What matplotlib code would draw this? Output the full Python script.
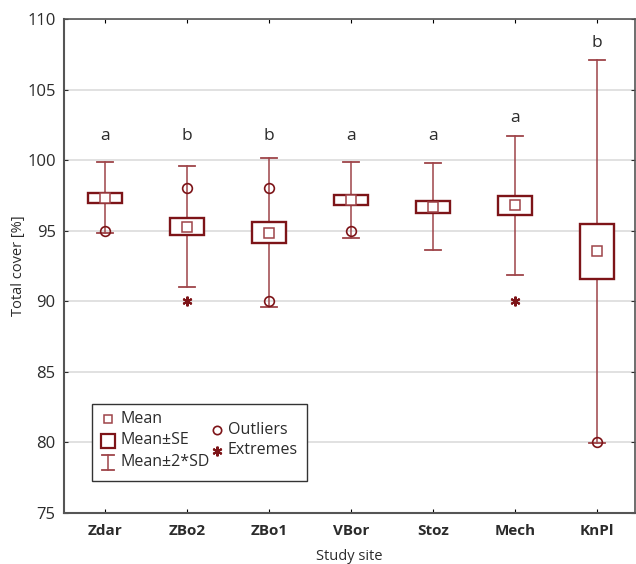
import matplotlib
matplotlib.use("Agg")
import matplotlib.pyplot as plt
from matplotlib.patches import Rectangle
from matplotlib.lines import Line2D

# ---- data ----
sites = ["Zdar", "ZBo2", "ZBo1", "VBor", "Stoz", "Mech", "KnPl"]
means = [97.33, 95.28, 94.87, 97.20, 96.70, 96.79, 93.53]
se = [0.36, 0.59, 0.76, 0.365, 0.415, 0.685, 1.935]
sd = [1.26, 2.145, 2.64, 1.35, 1.54, 2.455, 6.8]
outliers = [[95.0], [98.0], [98.0, 90.0], [95.0], [], [], [80.0]]
extremes = [[], [90.0], [], [], [], [90.0], []]
letters = ["a", "b", "b", "a", "a", "a", "b"]
letter_y = [101.7, 101.7, 101.7, 101.7, 101.7, 103.0, 108.3]
yticks = [75, 80, 85, 90, 95, 100, 105, 110]

plt.rcParams['font.family'] = ['Open Sans', 'DejaVu Sans']

BOX = '#7d1418'
WH = '#9e4449'
TXT = '#2b2b2b'

W, H = 636, 564
fig = plt.figure(figsize=(W / 100, H / 100), dpi=100)
L, R, T, B = 64, 635, 19, 513
ax = fig.add_axes([L / W, 1 - B / H, (R - L) / W, (B - T) / H])

ax.set_xlim(-0.5, 6.46)
ax.set_ylim(75, 110)

boxw = 0.41
capw = 0.20
for i, (m, s, d) in enumerate(zip(means, se, sd)):
    lo, hi = m - 2 * d, m + 2 * d
    ax.plot([i, i], [lo, m - s], color=WH, lw=1.1, zorder=3)
    ax.plot([i, i], [m + s, hi], color=WH, lw=1.1, zorder=3)
    ax.plot([i - capw / 2, i + capw / 2], [lo, lo], color=WH, lw=1.3, zorder=3)
    ax.plot([i - capw / 2, i + capw / 2], [hi, hi], color=WH, lw=1.3, zorder=3)
    ax.add_patch(Rectangle((i - boxw / 2, m - s), boxw, 2 * s, facecolor='white',
                           edgecolor=BOX, lw=1.7, zorder=4))
    ax.plot([i], [m], marker='s', ms=6.5, mfc='white', mec=WH, mew=1.1, zorder=5)
    for o in outliers[i]:
        ax.plot([i], [o], marker='o', ms=7, mfc='none', mec=BOX, mew=1.2, zorder=5)
    for e in extremes[i]:
        ax.plot([i], [e], marker=(6, 2, 0), ms=7, mec=BOX, mew=1.5, zorder=5)
    ax.text(i, letter_y[i], letters[i], ha='center', va='center', fontsize=12.5, color=TXT)

ax.set_yticks(yticks)
ax.set_xticks(range(len(sites)))
ax.set_xticklabels(sites, fontweight='bold', fontsize=11, color=TXT)
ax.tick_params(axis='y', labelsize=12, colors=TXT, direction='in', length=3, pad=6,
               right=True, left=True)
ax.tick_params(axis='x', direction='in', length=3, pad=8, top=True, bottom=True)
ax.grid(axis='y', color='#dcdcdc', lw=1.2, zorder=0)
ax.set_axisbelow(True)
for sp in ['left', 'bottom']:
    ax.spines[sp].set_color('#555555')
    ax.spines[sp].set_linewidth(1.5)
for sp in ['top', 'right']:
    ax.spines[sp].set_color('#555555')
    ax.spines[sp].set_linewidth(1.2)

ax.set_ylabel("Total cover [%]", fontsize=10.5, color=TXT, labelpad=1)
ax.set_xlabel("Study site", fontsize=10.5, color=TXT, labelpad=8)

# ---- legend (manual) ----
def fx(x):
    return (x - L) / (R - L)

def fy(y):
    return (B - y) / (B - T)

tr = ax.transAxes
ax.add_patch(Rectangle((fx(92), fy(481)), fx(307) - fx(92), fy(404) - fy(481),
                       transform=tr, facecolor='white', edgecolor='#333333', lw=1.0, zorder=10))
ax.add_line(Line2D([fx(108)], [fy(419)], marker='s', ms=6, mfc='white', mec=WH, mew=1.1,
                   transform=tr, zorder=11))
ax.add_line(Line2D([fx(108)], [fy(440.5)], marker='s', ms=10, mfc='white', mec=BOX, mew=1.6,
                   transform=tr, zorder=11))
ax.add_line(Line2D([fx(108), fx(108)], [fy(455), fy(470)], color=WH, lw=1.1, transform=tr, zorder=11))
ax.add_line(Line2D([fx(102), fx(114)], [fy(455), fy(455)], color=WH, lw=1.3, transform=tr, zorder=11))
ax.add_line(Line2D([fx(102), fx(114)], [fy(470), fy(470)], color=WH, lw=1.3, transform=tr, zorder=11))
ax.add_line(Line2D([fx(217)], [fy(430)], marker='o', ms=6, mfc='none', mec=BOX, mew=1.2,
                   transform=tr, zorder=11))
ax.add_line(Line2D([fx(217)], [fy(450.5)], marker=(6, 2, 0), ms=7, mec=BOX, mew=1.5,
                   transform=tr, zorder=11))
for txt, x, y in [("Mean", 120, 419), ("Mean±SE", 120, 440.5), ("Mean±2*SD", 120, 462),
                  ("Outliers", 228, 429.5), ("Extremes", 228, 450.5)]:
    ax.text(fx(x), fy(y), txt, transform=tr, fontsize=11.5, color=TXT, ha='left',
            va='center', zorder=12)

fig.savefig("out.png", dpi=100)
